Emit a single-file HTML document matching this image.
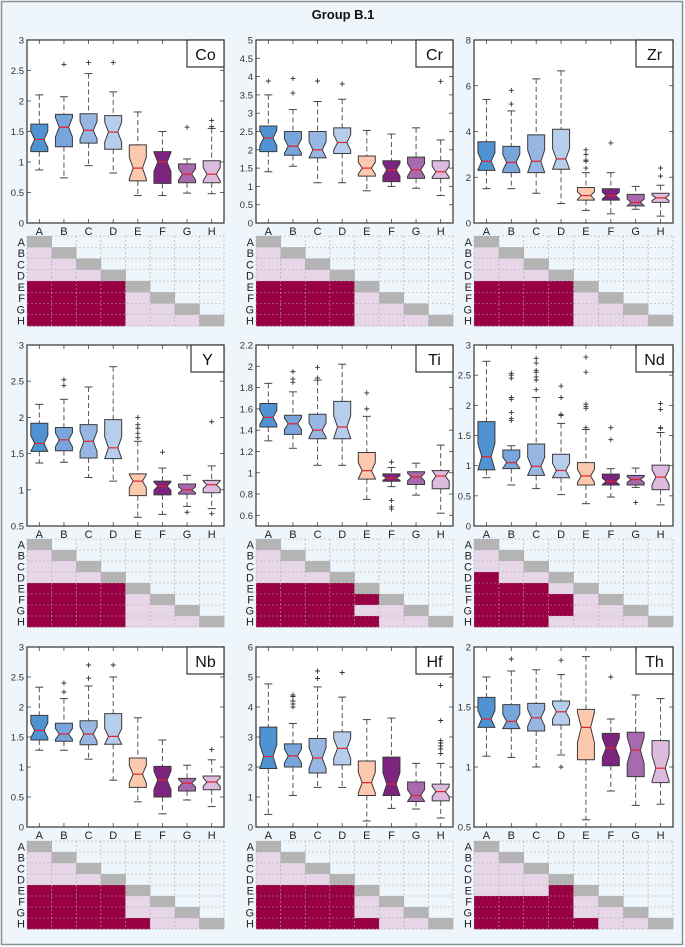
<!DOCTYPE html>
<html><head><meta charset="utf-8"><style>
html,body{margin:0;padding:0;background:#fff;}
#wrap{width:685px;height:947px;position:relative;}
svg{display:block;font-family:"Liberation Sans",sans-serif;}
</style></head><body>
<div id="wrap">
<svg id="fig" width="685" height="947" viewBox="0 0 685 947">
<rect x="1.5" y="1.5" width="681" height="943" fill="#eef5fb" stroke="#8a8f94" stroke-width="1.5"/>
<text x="343" y="19" text-anchor="middle" font-size="13" font-weight="bold" fill="#111">Group B.1</text>
</svg>
</div>
<script>
const groups = ["A","B","C","D","E","F","G","H"];
const colors = ["#4f93d2","#78a6dc","#97b6e2","#b7cdec","#fcc8ae","#7d2480","#a76aae","#dcbbde"];
const elements = ["Co","Cr","Zr","Y","Ti","Nd","Nb","Hf","Th"];
const yRanges = [[0,3],[0,5],[0,8],[0.5,3],[0.5,2.2],[0,3],[0,3],[0,6],[0.5,2]];
const yTicks = [
 [0,0.5,1,1.5,2,2.5,3],
 [0,0.5,1,1.5,2,2.5,3,3.5,4,4.5,5],
 [0,2,4,6,8],
 [0.5,1,1.5,2,2.5,3],
 [0.6,0.8,1,1.2,1.4,1.6,1.8,2,2.2],
 [0,0.5,1,1.5,2,2.5,3],
 [0,0.5,1,1.5,2,2.5,3],
 [0,1,2,3,4,5,6],
 [0.5,1,1.5,2]];
// per group: [whiskerLow, q1, median, q3, whiskerHigh]
const statsCo = [[0.87,1.17,1.37,1.62,2.1],[0.74,1.25,1.57,1.78,2.07],[0.94,1.31,1.52,1.79,2.45],[0.82,1.21,1.49,1.76,2.15],[0.45,0.69,0.9,1.28,1.82],[0.45,0.65,1.0,1.17,1.5],[0.49,0.66,0.8,0.97,1.05],[0.48,0.66,0.8,1.02,1.55]];
const outCo = [[],[2.6],[2.63],[2.63],[],[],[1.57],[1.58,1.68]];
const statsCr = [[1.4,1.95,2.32,2.65,3.5],[1.55,1.85,2.1,2.5,3.1],[1.1,1.78,2.0,2.5,3.32],[1.1,1.9,2.2,2.6,3.38],[0.88,1.28,1.5,1.83,2.53],[1.0,1.13,1.45,1.7,2.43],[0.95,1.22,1.45,1.8,2.6],[0.75,1.22,1.4,1.7,2.27]];
const outCr = [[3.88],[3.55,3.95],[3.88],[3.8],[],[],[],[3.87]];
const statsZr = [[1.5,2.3,2.7,3.55,5.4],[1.5,2.2,2.65,3.35,4.9],[1.3,2.2,2.7,3.85,6.3],[0.85,2.35,2.8,4.1,6.65],[0.55,1.0,1.2,1.55,2.2],[0.4,1.0,1.2,1.5,2.2],[0.6,0.75,0.9,1.25,1.6],[0.3,0.9,1.1,1.3,1.65]];
const outZr = [[],[5.2,5.8],[],[],[2.4,2.7,2.75,3.0,3.2],[3.5],[],[2.05,2.4]];
const statsY = [[1.37,1.53,1.64,1.92,2.18],[1.38,1.54,1.69,1.86,2.25],[1.17,1.44,1.67,1.9,2.42],[1.12,1.43,1.58,1.97,2.7],[0.62,0.92,1.12,1.22,1.67],[0.66,0.93,1.05,1.12,1.3],[0.77,0.94,1.0,1.08,1.2],[0.74,0.96,1.07,1.13,1.33]];
const outY = [[],[2.44,2.52],[],[],[1.72,1.78,1.85,1.9,2.0],[1.52],[0.69],[0.67,1.94]];
const statsTi = [[1.3,1.43,1.52,1.65,1.84],[1.23,1.36,1.46,1.54,1.76],[1.07,1.32,1.4,1.55,1.87],[1.07,1.32,1.43,1.67,2.02],[0.75,0.94,1.02,1.19,1.53],[0.87,0.92,0.95,0.99,1.05],[0.79,0.89,0.96,1.01,1.09],[0.62,0.85,0.97,1.02,1.26]];
const outTi = [[],[1.85,1.88,1.95],[1.89,1.99],[],[1.6,1.75],[1.1,0.74,0.68,0.66],[],[]];
const statsNd = [[0.8,0.93,1.15,1.73,2.73],[0.68,0.95,1.05,1.26,1.33],[0.62,0.84,0.99,1.36,2.13],[0.52,0.8,0.92,1.19,1.7],[0.37,0.68,0.83,1.05,1.6],[0.48,0.68,0.74,0.86,0.95],[0.64,0.68,0.77,0.84,0.96],[0.35,0.6,0.81,1.01,1.55]];
const outNd = [[],[1.75,1.78,1.88,2.1,2.13,2.45,2.5,2.53],[2.26,2.42,2.47,2.55,2.58,2.7,2.78],[1.83,1.85,2.13,2.32],[1.63,1.95,1.98,2.02,2.55,2.8],[1.43,1.63],[0.39],[1.62,1.63,1.93,2.03]];
const statsNb = [[1.28,1.45,1.61,1.86,2.33],[1.28,1.43,1.55,1.73,2.14],[1.13,1.37,1.55,1.77,2.35],[0.78,1.38,1.51,1.89,2.5],[0.42,0.66,0.88,1.15,1.82],[0.22,0.5,0.78,1.01,1.45],[0.45,0.6,0.73,0.81,1.03],[0.34,0.62,0.75,0.85,1.12]];
const outNb = [[],[2.25,2.4],[2.48,2.7],[2.7],[],[],[],[1.29]];
const statsHf = [[0.42,1.95,2.35,3.33,4.77],[1.05,2.0,2.37,2.77,3.45],[1.32,1.8,2.3,2.95,4.67],[1.32,2.07,2.62,3.17,4.33],[0.2,1.05,1.48,2.2,3.58],[0.62,1.05,1.43,2.33,3.63],[0.6,0.85,1.05,1.5,2.12],[0.3,0.87,1.18,1.43,2.12]];
const outHf = [[],[4.0,4.1,4.2,4.35,4.4],[4.95,5.2],[5.15],[],[],[],[2.45,2.6,2.7,2.8,2.88,3.55,4.72]];
const statsTh = [[1.09,1.33,1.4,1.58,1.75],[1.08,1.32,1.38,1.52,1.8],[1.0,1.3,1.41,1.53,1.81],[1.1,1.35,1.46,1.55,1.77],[0.56,1.06,1.33,1.48,1.92],[0.8,1.01,1.16,1.28,1.4],[0.68,0.92,1.14,1.29,1.6],[0.69,0.87,0.99,1.22,1.57]];
const outTh = [[],[1.9],[],[1.0,1.89],[],[1.75],[],[]];
// significance matrices: row i lists columns j<i; 0 = not significant, 1 = significant
const sigStd = ["","0","00","000","1111","11110","111100","1111000"];
const sigCo = sigStd, sigCr = sigStd, sigZr = sigStd, sigY = sigStd;
const sigTi = ["","0","00","000","1111","11111","111100","1111100"];
const sigNd = ["","0","00","100","1110","11110","111100","1110000"];
const sigNb = ["","0","00","000","1111","11110","111100","1111100"];
const sigHf = ["","0","00","000","1111","11110","111100","1111100"];
const sigTh = ["","0","00","000","0001","11110","111100","1111100"];

const allStats = [statsCo,statsCr,statsZr,statsY,statsTi,statsNd,statsNb,statsHf,statsTh];
const allOut = [outCo,outCr,outZr,outY,outTi,outNd,outNb,outHf,outTh];
const allSig = [sigCo,sigCr,sigZr,sigY,sigTi,sigNd,sigNb,sigHf,sigTh];

const NS = "http://www.w3.org/2000/svg";
const svg = document.getElementById("fig");
function mk(tag, attrs, parent){
  const e = document.createElementNS(NS, tag);
  for (const k in attrs) e.setAttribute(k, attrs[k]);
  (parent||svg).appendChild(e);
  return e;
}
const colX = [[27,224],[256,453],[474,673]];
const rowY = [[40,223,236,326],[345,526,539,627],[647,827,841,929]];

elements.forEach((el, p) => {
  const [x0,x1] = colX[p%3];
  const [py0,py1,hy0,hy1] = rowY[Math.floor(p/3)];
  const [ymin,ymax] = yRanges[p];
  const g = mk("g", {});
  
  
  const yS = v => py1 - (v - ymin) / (ymax - ymin) * (py1 - py0);
  const slot = (x1 - x0) / 8;
  const xS = i => x0 + slot * (i + 0.5);
  const bg = mk("rect", {x:x0, y:py0, width:x1-x0, height:py1-py0, fill:"#fff"}, g);
  
  
  // y ticks
  yTicks[p].forEach(t => {
    const y = yS(t);
    mk("line", {x1:x0, x2:x0+4, y1:y, y2:y, stroke:"#444", "stroke-width":0.8}, g);
    mk("line", {x1:x1-4, x2:x1, y1:y, y2:y, stroke:"#444", "stroke-width":0.8}, g);
    const tx = mk("text", {x:x0-3, y:y+3.5, "text-anchor":"end", "font-size":9.5, fill:"#333"}, g);
    tx.textContent = String(t);
    
    
  });
  groups.forEach((gr, i) => {
    const x = xS(i);
    mk("line", {x1:x, x2:x, y1:py1, y2:py1-4, stroke:"#444", "stroke-width":0.8}, g);
    mk("line", {x1:x, x2:x, y1:py0, y2:py0+4, stroke:"#444", "stroke-width":0.8}, g);
    const tx = mk("text", {x:x, y:py1+12, "text-anchor":"middle", "font-size":11, fill:"#222"}, g);
    tx.textContent = gr;
    
    
    const s = allStats[p][i];
    const [lo,q1,md,q3,hi] = s;
    const bw = 8.5, cap = 4;
    const wg = mk("g", {}, g);
    
    
    mk("line", {x1:x, x2:x, y1:yS(hi), y2:yS(q3), stroke:"#555", "stroke-width":1, "stroke-dasharray":"5,3"}, wg);
    mk("line", {x1:x, x2:x, y1:yS(q1), y2:yS(lo), stroke:"#555", "stroke-width":1, "stroke-dasharray":"5,3"}, wg);
    mk("line", {x1:x-cap, x2:x+cap, y1:yS(hi), y2:yS(hi), stroke:"#444", "stroke-width":1}, wg);
    mk("line", {x1:x-cap, x2:x+cap, y1:yS(lo), y2:yS(lo), stroke:"#444", "stroke-width":1}, wg);
    const nd = Math.min(0.3*(q3-q1), md-q1, q3-md);
    const nlo = md - nd, nhi = md + nd, nw = bw*0.55;
    const pts = [[x-bw,yS(q3)],[x+bw,yS(q3)],[x+bw,yS(nhi)],[x+nw,yS(md)],[x+bw,yS(nlo)],[x+bw,yS(q1)],[x-bw,yS(q1)],[x-bw,yS(nlo)],[x-nw,yS(md)],[x-bw,yS(nhi)]];
    mk("polygon", {points:pts.map(q=>q.join(",")).join(" "), fill:colors[i], stroke:"#3a3a3a", "stroke-width":1}, wg);
    mk("line", {x1:x-nw, x2:x+nw, y1:yS(md), y2:yS(md), stroke:"#e8202a", "stroke-width":1.2}, wg);
    allOut[p][i].forEach(o => {
      const oy = yS(o);
      mk("path", {d:`M${x-2.5},${oy}H${x+2.5}M${x},${oy-2.5}V${oy+2.5}`, stroke:"#333", "stroke-width":0.9, fill:"none"}, wg);
    });
  });
  const fr = mk("rect", {x:x0, y:py0, width:x1-x0, height:py1-py0, fill:"none", stroke:"#333", "stroke-width":1.2}, g);
  
  
  // legend label
  const lw = el.length > 1 ? 37 : 33;
  const lg = mk("g", {}, g);
  
  
  mk("rect", {x:x1-lw, y:py0, width:lw, height:27, fill:"#fff", stroke:"#333", "stroke-width":1.2}, lg);
  const lt = mk("text", {x:x1-lw/2, y:py0+20, "text-anchor":"middle", "font-size":16, fill:"#111"}, lg);
  lt.textContent = el;
  // heatmap
  const hg = mk("g", {}, g);
  
  
  const cw = (x1 - x0) / 8, ch = (hy1 - hy0) / 8;
  mk("rect", {x:x0, y:hy0, width:x1-x0, height:hy1-hy0, fill:"#eef5fb"}, hg);
  for (let r = 0; r < 8; r++) {
    for (let c = 0; c < 8; c++) {
      let fill = null;
      if (c === r) fill = "#b4b4b4";
      else if (c < r) fill = allSig[p][r][c] === "1" ? "#990043" : "#e6d6e8";
      if (fill) mk("rect", {x:x0+c*cw, y:hy0+r*ch, width:cw+0.3, height:ch+0.3, fill:fill}, hg);
    }
    const rl = mk("text", {x:x0-2, y:hy0+(r+1)*ch-1.5, "text-anchor":"end", "font-size":11, fill:"#222"}, hg);
    rl.textContent = groups[r];
  }
  for (let k = 0; k <= 8; k++) {
    mk("line", {x1:x0+k*cw, x2:x0+k*cw, y1:hy0, y2:hy1, stroke:"#aaa", "stroke-width":0.6, "stroke-dasharray":"2,2"}, hg);
    mk("line", {x1:x0, x2:x1, y1:hy0+k*ch, y2:hy0+k*ch, stroke:"#aaa", "stroke-width":0.6, "stroke-dasharray":"2,2"}, hg);
  }
});
</script>
</body></html>
